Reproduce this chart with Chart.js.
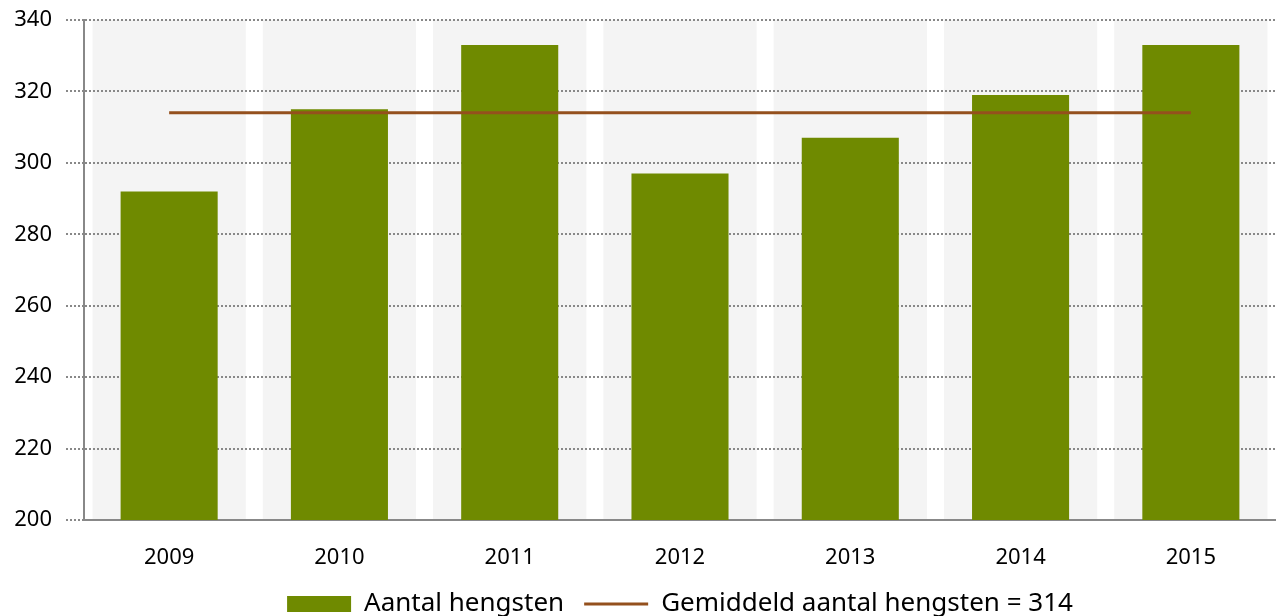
<!DOCTYPE html>
<html>
<head>
<meta charset="utf-8">
<script src="https://cdn.jsdelivr.net/npm/chart.js@4"></script>
<style>
  html, body { margin: 0; padding: 0; background: #fff; }
  #wrap { width: 1276px; height: 616px; }
</style>
</head>
<body>
<div id="wrap"><canvas id="hengstChart"></canvas></div>
<script>
var years = ['2009', '2010', '2011', '2012', '2013', '2014', '2015'];
var hengsten = [292, 315, 333, 297, 307, 319, 333];
var gemiddeld = [314, 314, 314, 314, 314, 314, 314];
var yTicks = [200, 220, 240, 260, 280, 300, 320, 340];

// grey band behind every category, drawn before the grid
var bandPlugin = {
    id: 'bands',
    beforeDraw: function(chart) {
        var x = chart.scales.x, area = chart.chartArea, c = chart.ctx;
        var w = (x.getPixelForValue(1) - x.getPixelForValue(0)) * 0.9;
        c.save();
        c.fillStyle = '#f4f4f4';
        for (var i = 0; i < years.length; i++) {
            c.fillRect(x.getPixelForValue(i) - w / 2, area.top, w, area.bottom - area.top);
        }
        c.restore();
    }
};

var ctx = document.getElementById('hengstChart').getContext('2d');
var hengstChart = new Chart(ctx, {
    type: 'bar',
    data: {
        labels: years,
        datasets: [{
            label: 'Aantal hengsten',
            data: hengsten,
            backgroundColor: '#6f8a00',
            borderWidth: 0,
            barPercentage: 0.57,
            categoryPercentage: 1,
            pointStyle: 'rect',
            order: 2
        }, {
            type: 'line',
            label: 'Gemiddeld aantal hengsten = 314',
            data: gemiddeld,
            borderColor: '#94501d',
            backgroundColor: '#94501d',
            borderWidth: 3,
            pointRadius: 0,
            pointStyle: 'line',
            order: 1
        }]
    },
    options: {
        responsive: true,
        maintainAspectRatio: false,
        animation: false,
        layout: { padding: { top: 20, right: 0, left: 0, bottom: -11 } },
        scales: {
            x: {
                offset: true,
                afterFit: function(scale) { scale.height = 51; },
                grid: { display: false, drawTicks: false },
                border: { display: true, color: '#888', width: 2 },
                ticks: { color: '#000', padding: 25, font: { family: 'Noto Sans', size: 22 } }
            },
            y: {
                min: 200,
                max: 340,
                afterBuildTicks: function(scale) {
                    scale.ticks = yTicks.map(function(v) { return { value: v }; });
                },
                afterFit: function(scale) {
                    scale.width = 84;
                    scale.paddingTop = 0;
                    scale.paddingBottom = 0;
                },
                grid: {
                    color: '#888',
                    lineWidth: 2,
                    tickBorderDash: [2, 2],
                    tickLength: 18
                },
                border: { display: true, color: '#888', width: 2, dash: [2, 2] },
                ticks: { color: '#000', padding: 14, font: { family: 'Noto Sans', size: 22 } }
            }
        },
        plugins: {
            legend: {
                position: 'bottom',
                fullSize: false,
                labels: {
                    usePointStyle: true,
                    pointStyleWidth: 64,
                    boxWidth: 64,
                    boxHeight: 16,
                    padding: 20,
                    color: '#000',
                    font: { family: 'Noto Sans', size: 26 },
                    sort: function(a, b) { return a.datasetIndex - b.datasetIndex; }
                }
            },
            tooltip: { enabled: false }
        }
    },
    plugins: [bandPlugin]
});
</script>
</body>
</html>
